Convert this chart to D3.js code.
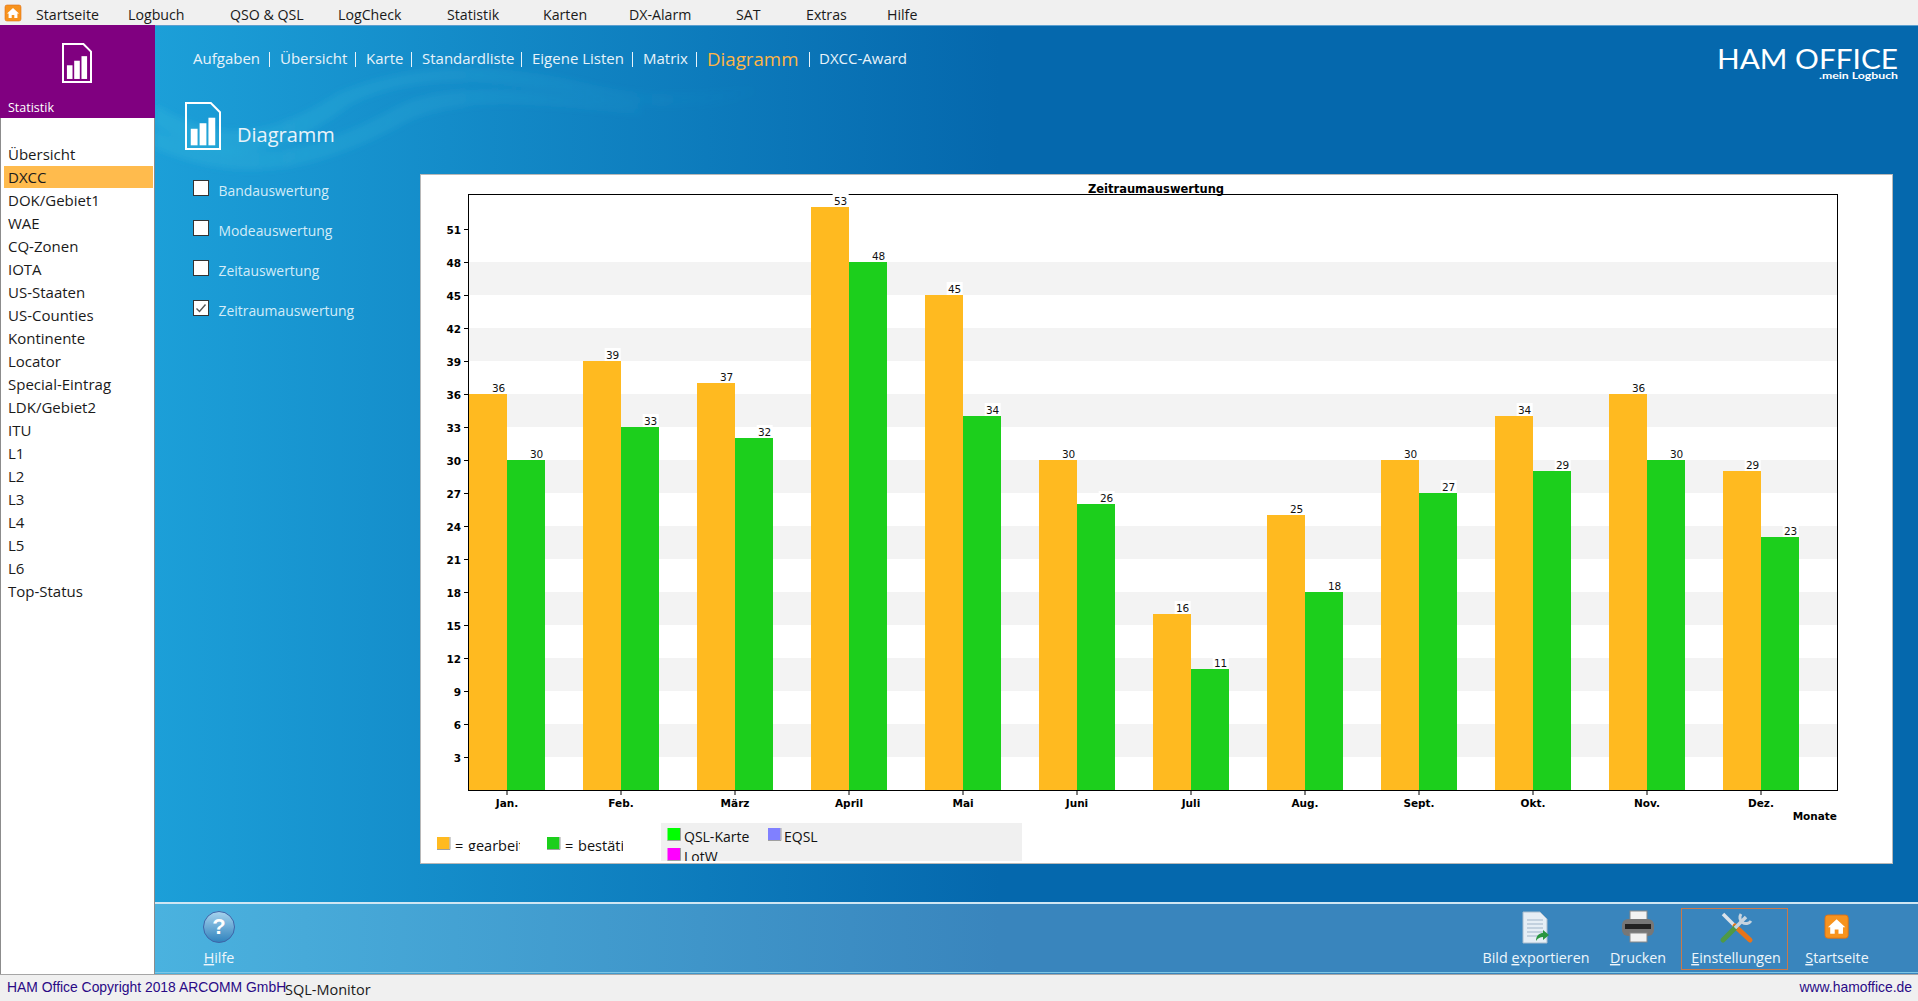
<!DOCTYPE html>
<html>
<head>
<meta charset="utf-8">
<title>Diagramm</title>
<script src="https://cdn.jsdelivr.net/npm/d3@7"></script>
<style>
  html, body { margin: 0; padding: 0; background: #f0f0f0; overflow: hidden; }
  svg { display: block; }
  .ui { font-family: "Open Sans", "Noto Sans", sans-serif; }
</style>
</head>
<body>
<div id="chart"></div>
<script>
// Chart data
const months = ["Jan.", "Feb.", "März", "April", "Mai", "Juni", "Juli", "Aug.", "Sept.", "Okt.", "Nov.", "Dez."];
const gearbeitet = [36, 39, 37, 53, 45, 30, 16, 25, 30, 34, 36, 29];
const bestaetigt = [30, 33, 32, 48, 34, 26, 11, 18, 27, 29, 30, 23];
const yTicks = [3, 6, 9, 12, 15, 18, 21, 24, 27, 30, 33, 36, 39, 42, 45, 48, 51];
const stripeStarts = [3, 9, 15, 21, 27, 33, 39, 45];

// Window text
const menuItems = [["Startseite", 36], ["Logbuch", 128], ["QSO & QSL", 230], ["LogCheck", 338], ["Statistik", 447], ["Karten", 543], ["DX-Alarm", 629], ["SAT", 736], ["Extras", 806], ["Hilfe", 887]];
const navItems = [["Aufgaben", 193], ["Übersicht", 280], ["Karte", 366], ["Standardliste", 422], ["Eigene Listen", 532], ["Matrix", 643], ["Diagramm", 707], ["DXCC-Award", 819]];
const navSeparators = [269, 355, 411, 521, 632, 696, 809];
const sideItems = ["Übersicht", "DXCC", "DOK/Gebiet1", "WAE", "CQ-Zonen", "IOTA", "US-Staaten", "US-Counties", "Kontinente", "Locator", "Special-Eintrag", "LDK/Gebiet2", "ITU", "L1", "L2", "L3", "L4", "L5", "L6", "Top-Status"];
const checkItems = [["Bandauswertung", false], ["Modeauswertung", false], ["Zeitauswertung", false], ["Zeitraumauswertung", true]];

const width = 1918;
const height = 1001;
const plot = {left: 469, right: 1837, top: 195, bottom: 790};

const svg = d3.select("#chart").append("svg")
    .attr("width", width)
    .attr("height", height)
    .attr("viewBox", [0, 0, width, height]);

const defs = svg.append("defs");

function hGradient(id, x1, x2, from, to) {
    const g = defs.append("linearGradient").attr("id", id)
        .attr("gradientUnits", "userSpaceOnUse")
        .attr("x1", x1).attr("x2", x2).attr("y1", 0).attr("y2", 0);
    g.append("stop").attr("offset", 0).attr("stop-color", from);
    g.append("stop").attr("offset", 1).attr("stop-color", to);
}
hGradient("mainBg", 155, 1000, "#1c9fd8", "#0568ad");
hGradient("footBg", 155, 1000, "#4ab2df", "#3985bd");

function clip(id, x, y, w, h) {
    defs.append("clipPath").attr("id", id).append("rect")
        .attr("x", x).attr("y", y).attr("width", w).attr("height", h);
}

// Window background
svg.append("rect").attr("width", width).attr("height", height).attr("fill", "#f0f0f0");
svg.append("rect").attr("x", 155).attr("y", 25).attr("width", width - 155).attr("height", 878).attr("fill", "url(#mainBg)");
svg.append("rect").attr("x", 155).attr("y", 25).attr("width", width - 155).attr("height", 1).attr("fill", "#5c9fcf");

// Pale swoosh behind the heading, fades out to the right
const swooshFade = defs.append("linearGradient").attr("id", "swooshFade")
    .attr("gradientUnits", "userSpaceOnUse")
    .attr("x1", 155).attr("x2", 760).attr("y1", 0).attr("y2", 0);
swooshFade.append("stop").attr("offset", 0).attr("stop-color", "#37bbdc").attr("stop-opacity", 0.32);
swooshFade.append("stop").attr("offset", 1).attr("stop-color", "#37bbdc").attr("stop-opacity", 0);
defs.append("filter").attr("id", "soft").append("feGaussianBlur").attr("stdDeviation", 3);
clip("swooshClip", 155, 26, 800, 300);
svg.append("g").attr("clip-path", "url(#swooshClip)").append("g").attr("filter", "url(#soft)").selectAll("path")
    .data([
        "M155 125 C230 175 290 150 350 105 C420 70 500 80 600 100 C680 112 720 105 760 95 L760 84 C700 95 660 98 600 86 C500 62 420 60 340 92 C280 130 230 150 155 105 Z",
        "M155 148 C250 190 330 165 410 120 C470 95 540 105 640 115 L640 104 C540 92 460 78 400 105 C320 150 250 170 155 130 Z"
    ])
    .join("path")
    .attr("d", d => d)
    .attr("fill", "url(#swooshFade)");

// Footer bar
svg.append("rect").attr("x", 155).attr("y", 902).attr("width", width - 155).attr("height", 72).attr("fill", "url(#footBg)");
svg.append("rect").attr("x", 155).attr("y", 902).attr("width", width - 155).attr("height", 2).attr("fill", "#cfe6f3");
svg.append("rect").attr("x", 155).attr("y", 972).attr("width", width - 155).attr("height", 1).attr("fill", "#7cc6e6");
svg.append("rect").attr("x", 0).attr("y", 974).attr("width", width).attr("height", 1).attr("fill", "#a6a6a6");

// Top menu
svg.append("g").attr("class", "ui").selectAll("text")
    .data(menuItems)
    .join("text")
    .attr("x", d => d[1])
    .attr("y", 20)
    .attr("font-size", 14.2)
    .attr("fill", "#1a1a1a")
    .text(d => d[0]);

// Home icon, used in the menu and the footer
function homeIcon(x, y, s) {
    const g = svg.append("g").attr("transform", `translate(${x},${y}) scale(${s})`);
    g.append("rect").attr("width", 16).attr("height", 16).attr("rx", 2).attr("fill", "#f7931e").attr("stroke", "#e06f10").attr("stroke-width", 0.6);
    g.append("path").attr("d", "M8 3 L14 8.5 L12.4 8.5 L12.4 13 L9.3 13 L9.3 10 L6.7 10 L6.7 13 L3.6 13 L3.6 8.5 L2 8.5 Z").attr("fill", "#fff");
}
homeIcon(5, 5, 1);

// Document with bars, used twice
function docIcon(x, y, w, h, stroke, fill) {
    const g = svg.append("g").attr("transform", `translate(${x},${y})`);
    const c = w * 0.27;
    g.append("path")
        .attr("d", `M0 0 L${w - c} 0 L${w} ${c} L${w} ${h} L0 ${h} Z`)
        .attr("fill", "none").attr("stroke", stroke).attr("stroke-width", 2);
    [[0.14, 0.56, 0.2], [0.4, 0.44, 0.2], [0.66, 0.32, 0.2]].forEach(b => {
        g.append("rect")
            .attr("x", b[0] * w).attr("y", b[1] * h)
            .attr("width", b[2] * w).attr("height", (0.92 - b[1]) * h)
            .attr("fill", fill);
    });
}

// Left column
svg.append("rect").attr("x", 0).attr("y", 25).attr("width", 155).attr("height", 93).attr("fill", "#800080");
svg.append("rect").attr("x", 0).attr("y", 118).attr("width", 155).attr("height", 856).attr("fill", "#fff");
svg.append("rect").attr("x", 0).attr("y", 118).attr("width", 1).attr("height", 856).attr("fill", "#8c8c8c");
svg.append("rect").attr("x", 154).attr("y", 118).attr("width", 1).attr("height", 856).attr("fill", "#8c8c8c");
docIcon(63, 44, 28, 38, "#fff", "#fff");
svg.append("text").attr("class", "ui")
    .attr("x", 8).attr("y", 112)
    .attr("font-size", 12.5).attr("fill", "#fff")
    .text("Statistik");

svg.append("rect").attr("x", 4).attr("y", 166).attr("width", 149).attr("height", 22).attr("fill", "#ffbb4d");
svg.append("g").attr("class", "ui").selectAll("text")
    .data(sideItems)
    .join("text")
    .attr("x", 8)
    .attr("y", (d, i) => 160 + i * 23)
    .attr("font-size", 15)
    .attr("fill", "#1a1a1a")
    .text(d => d);

// Section navigation
svg.append("g").attr("class", "ui").selectAll("text")
    .data(navItems)
    .join("text")
    .attr("x", d => d[1])
    .attr("y", d => d[0] === "Diagramm" ? 65.5 : 64)
    .attr("font-size", d => d[0] === "Diagramm" ? 18.7 : 15)
    .attr("fill", d => d[0] === "Diagramm" ? "#ffb545" : "#e8f3fa")
    .text(d => d[0]);
svg.append("g").selectAll("rect")
    .data(navSeparators)
    .join("rect")
    .attr("x", d => d)
    .attr("y", 52)
    .attr("width", 1)
    .attr("height", 15)
    .attr("fill", "#e8f3fa");

// Brand
const brand = svg.append("g").attr("font-family", "Lato, 'Liberation Sans', sans-serif").attr("fill", "#fff");
brand.append("text").attr("x", 1717).attr("y", 68.5)
    .attr("font-size", 26)
    .attr("textLength", 181).attr("lengthAdjust", "spacingAndGlyphs")
    .text("HAM OFFICE");
brand.append("text").attr("x", 1819).attr("y", 78.7)
    .attr("font-size", 9.5).attr("font-weight", "bold")
    .attr("textLength", 79).attr("lengthAdjust", "spacingAndGlyphs")
    .text(".mein Logbuch");

// Heading
docIcon(186, 103, 34, 46, "#fff", "#fff");
svg.append("text").attr("class", "ui")
    .attr("x", 237).attr("y", 142)
    .attr("font-size", 20).attr("fill", "#e8f3fa")
    .text("Diagramm");

// Check boxes
const checks = svg.append("g").attr("class", "ui").selectAll("g")
    .data(checkItems)
    .join("g")
    .attr("transform", (d, i) => `translate(193.5,${180.5 + i * 40})`);
checks.append("rect")
    .attr("x", 0).attr("y", 0).attr("width", 15).attr("height", 15)
    .attr("fill", "#fff").attr("stroke", "#333").attr("stroke-width", 1);
checks.filter(d => d[1]).append("path")
    .attr("d", "M3 8 L6 11 L12 4")
    .attr("fill", "none").attr("stroke", "#555").attr("stroke-width", 1.4);
checks.append("text")
    .attr("x", 25).attr("y", 15)
    .attr("font-size", 13.9)
    .attr("fill", "#d3ecf8")
    .text(d => d[0]);

// Chart panel
svg.append("rect")
    .attr("x", 420.5).attr("y", 174.5).attr("width", 1472).attr("height", 689)
    .attr("fill", "#fff").attr("stroke", "#b8b8b8");

// Scales
const x = d3.scaleBand()
    .domain(months)
    .range([plot.left, plot.right])
    .paddingInner(1 / 3)
    .paddingOuter(1 / 6)
    .align(0);
const xSeries = d3.scaleBand()
    .domain(["gearbeitet", "bestaetigt"])
    .range([0, x.bandwidth()]);
const y = d3.scaleLinear()
    .domain([0, (plot.bottom - plot.top) / 11])
    .range([plot.bottom, plot.top]);

// Grey bands every second interval
svg.append("g").selectAll("rect")
    .data(stripeStarts)
    .join("rect")
    .attr("x", plot.left)
    .attr("width", plot.right - plot.left)
    .attr("y", d => y(d + 3))
    .attr("height", d => y(d) - y(d + 3))
    .attr("fill", "#f3f3f3");

// Plot frame
svg.append("rect")
    .attr("x", plot.left - 0.5).attr("y", plot.top - 0.5)
    .attr("width", plot.right - plot.left + 1).attr("height", plot.bottom - plot.top + 1)
    .attr("fill", "none").attr("stroke", "#000").attr("stroke-width", 1);

// Bars
const series = [
    {key: "gearbeitet", values: gearbeitet, color: "#ffba20"},
    {key: "bestaetigt", values: bestaetigt, color: "#1ccf1c"}
];
const seriesG = svg.append("g").selectAll("g")
    .data(series)
    .join("g")
    .attr("fill", d => d.color);
seriesG.selectAll("rect")
    .data(d => d.values.map((v, i) => ({month: months[i], value: v, key: d.key})))
    .join("rect")
    .attr("x", d => x(d.month) + xSeries(d.key))
    .attr("width", xSeries.bandwidth())
    .attr("y", d => y(d.value))
    .attr("height", d => y(0) - y(d.value));

// Value labels sit on small white plates
const labels = svg.append("g").attr("font-family", "'DejaVu Sans', sans-serif").attr("font-size", 10.5);
const labelData = series.flatMap(s => s.values.map((v, i) => ({month: months[i], value: v, key: s.key})));
const labelX = d => x(d.month) + xSeries(d.key) + xSeries.bandwidth() * 0.78;
labels.selectAll("rect")
    .data(labelData)
    .join("rect")
    .attr("x", d => labelX(d) - 8)
    .attr("y", d => y(d.value) - 13)
    .attr("width", 16)
    .attr("height", 13)
    .attr("fill", "#fff");
labels.selectAll("text")
    .data(labelData)
    .join("text")
    .attr("x", labelX)
    .attr("y", d => y(d.value) - 2.5)
    .attr("text-anchor", "middle")
    .attr("fill", "#111")
    .text(d => d.value);

// Axes
const axisFont = "'DejaVu Sans', sans-serif";
const xAxis = svg.append("g")
    .attr("transform", `translate(0,${plot.bottom})`)
    .call(d3.axisBottom(x).tickSize(5).tickPadding(5));
const yAxis = svg.append("g")
    .attr("transform", `translate(${plot.left},0)`)
    .call(d3.axisLeft(y).tickValues(yTicks).tickSize(5).tickPadding(3));
[xAxis, yAxis].forEach(a => {
    a.attr("font-family", axisFont).attr("font-size", 10.5).attr("font-weight", "bold");
    a.select(".domain").remove();
    a.selectAll("line").attr("stroke", "#000").attr("stroke-width", 1);
    a.selectAll("text").attr("fill", "#000");
});
yAxis.selectAll("text").attr("dy", "0.4em");
svg.append("line")
    .attr("x1", plot.left).attr("x2", plot.right)
    .attr("y1", plot.bottom + 0.5).attr("y2", plot.bottom + 0.5)
    .attr("stroke", "#000").attr("stroke-width", 1);

svg.append("text")
    .attr("x", (plot.left + plot.right) / 2 + 3).attr("y", 193)
    .attr("text-anchor", "middle")
    .attr("font-family", axisFont).attr("font-size", 11.5).attr("font-weight", "bold")
    .text("Zeitraumauswertung");
svg.append("text")
    .attr("x", plot.right).attr("y", 820)
    .attr("text-anchor", "end")
    .attr("font-family", axisFont).attr("font-size", 10.5).attr("font-weight", "bold")
    .text("Monate");

// Legend, the labels are cut off the same way as in the app
clip("legA", 436, 830, 84, 21);
clip("legB", 546, 830, 77, 21);
clip("legC", 661, 823, 361, 38);
function swatch(parent, sx, sy, color) {
    parent.append("rect").attr("x", sx).attr("y", sy).attr("width", 12.5).attr("height", 12.5)
        .attr("fill", color);
    parent.append("path").attr("d", `M${sx} ${sy + 12.5} H${sx + 13} V${sy}`)
        .attr("fill", "none").attr("stroke", "#a0a0a0");
}
const legA = svg.append("g").attr("class", "ui").attr("clip-path", "url(#legA)");
swatch(legA, 437, 837, "#ffba20");
legA.append("text").attr("x", 455).attr("y", 851).attr("font-size", 14.5).attr("word-spacing", 1).attr("fill", "#111").text("= gearbeitet");
const legB = svg.append("g").attr("class", "ui").attr("clip-path", "url(#legB)");
swatch(legB, 547, 837, "#1ccf1c");
legB.append("text").attr("x", 565).attr("y", 851).attr("font-size", 14.5).attr("word-spacing", 1).attr("fill", "#111").text("= bestätigt");
svg.append("rect").attr("x", 661).attr("y", 823).attr("width", 361).attr("height", 38).attr("fill", "#f0f0f0");
const legC = svg.append("g").attr("class", "ui").attr("clip-path", "url(#legC)");
swatch(legC, 667.5, 828, "#00ff00");
legC.append("text").attr("x", 684).attr("y", 841.5).attr("font-size", 14).attr("fill", "#111").text("QSL-Karte");
swatch(legC, 768, 828, "#8080ff");
legC.append("text").attr("x", 784).attr("y", 841.5).attr("font-size", 14).attr("fill", "#111").text("EQSL");
swatch(legC, 667.5, 848, "#ff00ff");
legC.append("text").attr("x", 684).attr("y", 862).attr("font-size", 14).attr("fill", "#111").text("LotW");

// Footer buttons
const footButtons = [
    {label: "Hilfe", hot: "H", cx: 219},
    {label: "Bild exportieren", hot: "e", cx: 1536},
    {label: "Drucken", hot: "D", cx: 1638},
    {label: "Einstellungen", hot: "E", cx: 1736},
    {label: "Startseite", hot: "S", cx: 1837}
];
const footG = svg.append("g").attr("class", "ui").selectAll("text")
    .data(footButtons)
    .join("text")
    .attr("x", d => d.cx)
    .attr("y", 963)
    .attr("text-anchor", "middle")
    .attr("font-size", 14.3)
    .attr("fill", "#eef6fb");
footG.each(function(d) {
    const i = d.label.indexOf(d.hot);
    const t = d3.select(this);
    t.append("tspan").text(d.label.slice(0, i));
    t.append("tspan").attr("text-decoration", "underline").text(d.hot);
    t.append("tspan").text(d.label.slice(i + 1));
});

// Selected button frame
svg.append("rect")
    .attr("x", 1681.5).attr("y", 908.5).attr("width", 106).attr("height", 61)
    .attr("fill", "none").attr("stroke", "#c9794a");

// Help icon
const help = svg.append("g").attr("transform", "translate(219,927)");
const helpGrad = defs.append("linearGradient").attr("id", "helpGrad").attr("x1", 0).attr("x2", 0).attr("y1", 0).attr("y2", 1);
helpGrad.append("stop").attr("offset", 0).attr("stop-color", "#a8d4ee");
helpGrad.append("stop").attr("offset", 1).attr("stop-color", "#2f82bd");
help.append("circle").attr("r", 15.5).attr("fill", "url(#helpGrad)").attr("stroke", "#3f65a8").attr("stroke-width", 1);
help.append("text").attr("text-anchor", "middle").attr("y", 7).attr("font-family", "'Liberation Sans', sans-serif")
    .attr("font-size", 22).attr("font-weight", "bold").attr("fill", "#fff").text("?");

// Export icon
const exportIcon = svg.append("g").attr("transform", "translate(1523,912)");
exportIcon.append("path").attr("d", "M0 0 H17 L24 7 V31 H0 Z").attr("fill", "#e6eef5").attr("stroke", "#a9bccd");
[8, 12, 16, 20, 24].forEach(ly => exportIcon.append("line")
    .attr("x1", 4).attr("x2", 20).attr("y1", ly).attr("y2", ly).attr("stroke", "#9fb4c8"));
exportIcon.append("path").attr("d", "M13 29 C13 23 17 21 20 21 V18 L26 23 L20 28 V25 C17 25 15 26 13 29 Z").attr("fill", "#2a9640");

// Printer icon
const printer = svg.append("g").attr("transform", "translate(1622,911)");
printer.append("rect").attr("x", 8).attr("y", 0).attr("width", 17).attr("height", 10).attr("fill", "#f2f2f2").attr("stroke", "#888");
printer.append("rect").attr("x", 0).attr("y", 8).attr("width", 32).attr("height", 17).attr("rx", 6).attr("fill", "#777");
printer.append("rect").attr("x", 3).attr("y", 13).attr("width", 26).attr("height", 5).attr("fill", "#222");
printer.append("rect").attr("x", 8).attr("y", 22).attr("width", 17).attr("height", 9).attr("fill", "#f2f2f2").attr("stroke", "#888");

// Tools icon
const tools = svg.append("g").attr("transform", "translate(1720,911)");
tools.append("line").attr("x1", 3).attr("y1", 3).attr("x2", 16).attr("y2", 16).attr("stroke", "#dbe3ea").attr("stroke-width", 3.5);
tools.append("line").attr("x1", 15).attr("y1", 15).attr("x2", 30).attr("y2", 29).attr("stroke", "#e8741a").attr("stroke-width", 5).attr("stroke-linecap", "round");
tools.append("line").attr("x1", 3).attr("y1", 29).attr("x2", 15).attr("y2", 17).attr("stroke", "#4f9a45").attr("stroke-width", 5).attr("stroke-linecap", "round");
tools.append("line").attr("x1", 15).attr("y1", 17).attr("x2", 26).attr("y2", 6).attr("stroke", "#c6d4df").attr("stroke-width", 3.5);
tools.append("path").attr("d", "M21 3 A6 6 0 1 0 31 10").attr("fill", "none").attr("stroke", "#c6d4df").attr("stroke-width", 3);

homeIcon(1825, 915, 1.45);

// Status bar
const status = svg.append("g").attr("font-family", "'Liberation Sans', sans-serif").attr("font-size", 13.9).attr("fill", "#2a0a86");
status.append("text").attr("x", 7).attr("y", 992).text("HAM Office Copyright 2018 ARCOMM GmbH");
status.append("text").attr("x", 1912).attr("y", 992).attr("text-anchor", "end").text("www.hamoffice.de");
svg.append("text").attr("class", "ui").attr("x", 285).attr("y", 995)
    .attr("font-size", 14.5).attr("fill", "#1a1a1a").text("SQL-Monitor");
</script>
</body>
</html>
